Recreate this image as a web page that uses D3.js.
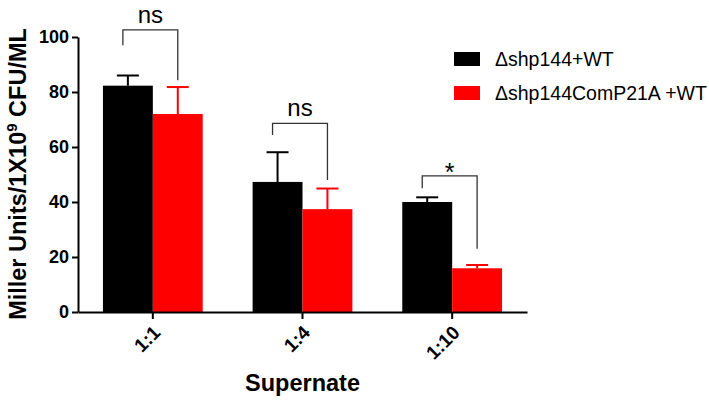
<!DOCTYPE html>
<html>
<head>
<meta charset="utf-8">
<script src="https://cdn.jsdelivr.net/npm/d3@7"></script>
<style>
  body { margin: 0; background: #fff; }
  svg text { font-family: "Liberation Sans", Arial, sans-serif; }
</style>
</head>
<body>
<svg width="709" height="400"></svg>
<script>
// data
var categories = ["1:1", "1:4", "1:10"];
var seriesNames = ["\u0394shp144+WT", "\u0394shp144ComP21A +WT"];
var seriesColors = ["#000000", "#ff0000"];
var wtMeans = [82.3, 47.3, 40];
var wtErr = [3.7, 10.8, 1.7];
var compMeans = [72, 37.4, 15.9];
var compErr = [9.8, 7.5, 1.2];
var sigLabels = ["ns", "ns", "*"];
// bracket: [top, left leg end, right leg end]
var sigBrackets = [[102.6, 97, 84.3], [68.6, 64.4, 48], [49.5, 45, 23]];
var yTicks = [0, 20, 40, 60, 80, 100];

var svg = d3.select("svg");
var margin = {left: 78, right: 182, top: 37, bottom: 88};
var width = 709 - margin.left - margin.right,
    height = 400 - margin.top - margin.bottom;

var g = svg.append("g")
    .attr("transform", "translate(" + margin.left + "," + margin.top + ")");

var x = d3.scaleBand().domain(categories).range([0, width]).paddingInner(0).paddingOuter(0);
var inner = d3.scaleBand().domain([0, 1]).range([x.bandwidth() / 6, x.bandwidth() * 5 / 6]);
var y = d3.scaleLinear().domain([0, 100]).range([height, 0]);

var rows = categories.map(function(c, i) {
    return {cat: c, vals: [
        {s: 0, mean: wtMeans[i], err: wtErr[i]},
        {s: 1, mean: compMeans[i], err: compErr[i]}
    ]};
});

// error bars (drawn first so the bar covers the lower half)
var groups = g.selectAll(".grp")
    .data(rows)
    .enter().append("g")
    .attr("transform", function(d) { return "translate(" + x(d.cat) + ",0)"; });

groups.selectAll(".err")
    .data(function(d) { return d.vals; })
    .enter().append("g")
    .each(function(d) {
        var cx = inner(d.s) + inner.bandwidth() / 2;
        var e = d3.select(this);
        e.append("line")
            .attr("x1", cx).attr("x2", cx)
            .attr("y1", y(d.mean)).attr("y2", y(d.mean + d.err))
            .attr("stroke", seriesColors[d.s]).attr("stroke-width", 2);
        e.append("line")
            .attr("x1", cx - 11).attr("x2", cx + 11)
            .attr("y1", y(d.mean + d.err)).attr("y2", y(d.mean + d.err))
            .attr("stroke", seriesColors[d.s]).attr("stroke-width", 2);
    });

groups.selectAll("rect")
    .data(function(d) { return d.vals; })
    .enter().append("rect")
    .attr("x", function(d) { return inner(d.s); })
    .attr("width", inner.bandwidth())
    .attr("y", function(d) { return y(d.mean); })
    .attr("height", function(d) { return height - y(d.mean); })
    .attr("fill", function(d) { return seriesColors[d.s]; });

// significance brackets
groups.each(function(d, i) {
    var b = sigBrackets[i];
    var xl = inner(0) + inner.bandwidth() / 2 - 5;
    var xr = inner(1) + inner.bandwidth() / 2;
    d3.select(this).append("path")
        .attr("d", "M" + xl + "," + y(b[1]) + "V" + y(b[0]) + "H" + xr + "V" + y(b[2]))
        .attr("fill", "none").attr("stroke", "#333").attr("stroke-width", 1.3);
    var star = sigLabels[i] == "*";
    d3.select(this).append("text")
        .attr("x", (xl + xr) / 2)
        .attr("y", y(b[0]) - (star ? -5 : 7))
        .attr("text-anchor", "middle")
        .style("font-size", star ? "25px" : "24px")
        .text(sigLabels[i]);
});

// axes
var yAxis = g.append("g")
    .call(d3.axisLeft(y).tickValues(yTicks).tickSize(6).tickSizeOuter(0));
var xAxis = g.append("g")
    .attr("transform", "translate(0," + height + ")")
    .call(d3.axisBottom(x).tickSize(7).tickSizeOuter(0));

[yAxis, xAxis].forEach(function(a) {
    a.select(".domain").attr("stroke", "#000").attr("stroke-width", 2);
    a.selectAll(".tick line").attr("stroke", "#000").attr("stroke-width", 2);
    a.selectAll("text").style("font-weight", "bold").attr("fill", "#000");
});
yAxis.selectAll("text").style("font-size", "18px").attr("x", -9);
xAxis.selectAll("text")
    .style("font-size", "19px")
    .attr("text-anchor", "end")
    .attr("dy", "0.35em")
    .attr("x", 0).attr("y", 0)
    .attr("transform", "translate(4,17) rotate(-45)");

// axis titles
var yt = svg.append("text")
    .attr("transform", "translate(26,174) rotate(-90)")
    .attr("text-anchor", "middle")
    .style("font-size", "23.5px").style("font-weight", "bold");
yt.append("tspan").text("Miller Units/1X10");
yt.append("tspan").attr("dy", -9).style("font-size", "15px").text("9");
yt.append("tspan").attr("dy", 9).text(" CFU/ML");

svg.append("text")
    .attr("x", margin.left + width / 2)
    .attr("y", 391)
    .attr("text-anchor", "middle")
    .style("font-size", "23.5px").style("font-weight", "bold")
    .text("Supernate");

// legend
var legend = svg.append("g").attr("transform", "translate(454,52)");
seriesNames.forEach(function(n, i) {
    legend.append("rect")
        .attr("x", 0).attr("y", i * 34)
        .attr("width", 26).attr("height", 14)
        .attr("fill", seriesColors[i]);
    legend.append("text")
        .attr("x", 41).attr("y", i * 34 + 7)
        .attr("dy", "0.35em")
        .style("font-size", "19.5px")
        .text(n);
});
</script>
</body>
</html>
